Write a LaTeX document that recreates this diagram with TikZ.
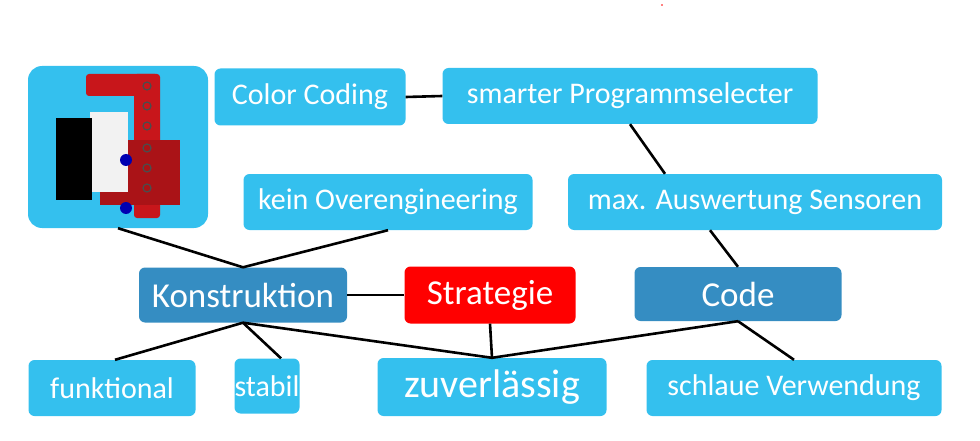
\documentclass[tikz,border=0pt]{standalone}
\usepackage{fontspec}
\setmainfont{Carlito}
\definecolor{lightbox}{HTML}{34C0EE}
\definecolor{darkbox}{HTML}{358DC2}
\definecolor{redbox}{HTML}{FF0000}
\definecolor{brick}{HTML}{C8161B}
\tikzset{
  item/.style={fill=lightbox, rounded corners=6pt, text=white, inner sep=0pt, font=\fontsize{30}{34}\selectfont},
  main/.style={item, fill=darkbox, font=\fontsize{35}{40}\selectfont},
  link/.style={line width=2.6pt}
}
\begin{document}
\begin{tikzpicture}[x=1pt,y=-1pt]
\useasboundingbox (0,0) rectangle (980,441);
\fill[redbox] (662,5) circle[radius=.8];
% picture box
\node[item, minimum width=180pt, minimum height=162pt, rounded corners=14pt] (pic) at (118,147) {};
\fill[brick, rounded corners=3pt] (86,74) rectangle (158,96);
\fill[brick, rounded corners=3pt] (134,74) rectangle (160,218);
\fill[brick!85!black] (100,140) rectangle (180,205);
\fill[white!90!gray] (90,112) rectangle (128,192);
\fill[black] (56,118) rectangle (92,200);
\fill[blue!70!black] (126,160) circle[radius=6];
\fill[blue!70!black] (126,208) circle[radius=6];
\foreach \y in {86,106,126,148,168,188}
  \draw[black!70, line width=1.2pt] (147,\y) circle[radius=4];
% top row
\node[item, minimum width=191pt, minimum height=57pt] (color) at (310,97) {Color Coding};
\node[item, minimum width=375pt, minimum height=56pt] (select) at (630,96) {smarter Programmselecter};
\node[item, minimum width=289pt, minimum height=56pt] (over) at (388,202) {kein Overengineering};
\node[item, minimum width=374pt, minimum height=56pt] (sens) at (755,202) {max. Auswertung Sensoren};
% middle row
\node[main, minimum width=208pt, minimum height=55pt] (konst) at (243,295) {Konstruktion};
\node[main, fill=redbox, minimum width=171pt, minimum height=57pt] (strat) at (490,295) {Strategie};
\node[main, minimum width=207pt, minimum height=54pt] (code) at (738,294) {Code};
% bottom row
\node[item, minimum width=167pt, minimum height=56pt] (funk) at (112,388) {funktional};
\node[item, minimum width=65pt, minimum height=55pt] (stab) at (267,386) {stabil};
\node[item, font=\fontsize{40}{44}\selectfont, minimum width=229pt, minimum height=58pt] (zuv) at (492,387) {zuverlässig};
\node[item, minimum width=295pt, minimum height=56pt] (schlau) at (794,388) {schlaue Verwendung};
% connectors
\draw[link] (color.east) -- (select.west);
\draw[link] ([xshift=0pt]select.south) -- ([xshift=-90pt]sens.north);
\draw[link] ([xshift=-45pt]sens.south) -- (code.north);
\draw[link] (pic.south) -- (konst.north);
\draw[link] (over.south) -- (konst.north);
\draw[link] (konst.east) -- (strat.west);
\draw[link] (konst.south) -- ([xshift=3pt]funk.north);
\draw[link] (konst.south) -- ([xshift=14pt]stab.north);
\draw[link] (konst.south) -- (zuv.north);
\draw[link] (strat.south) -- (zuv.north);
\draw[link] (code.south) -- (zuv.north);
\draw[link] (code.south) -- (schlau.north);
\end{tikzpicture}
\end{document}
